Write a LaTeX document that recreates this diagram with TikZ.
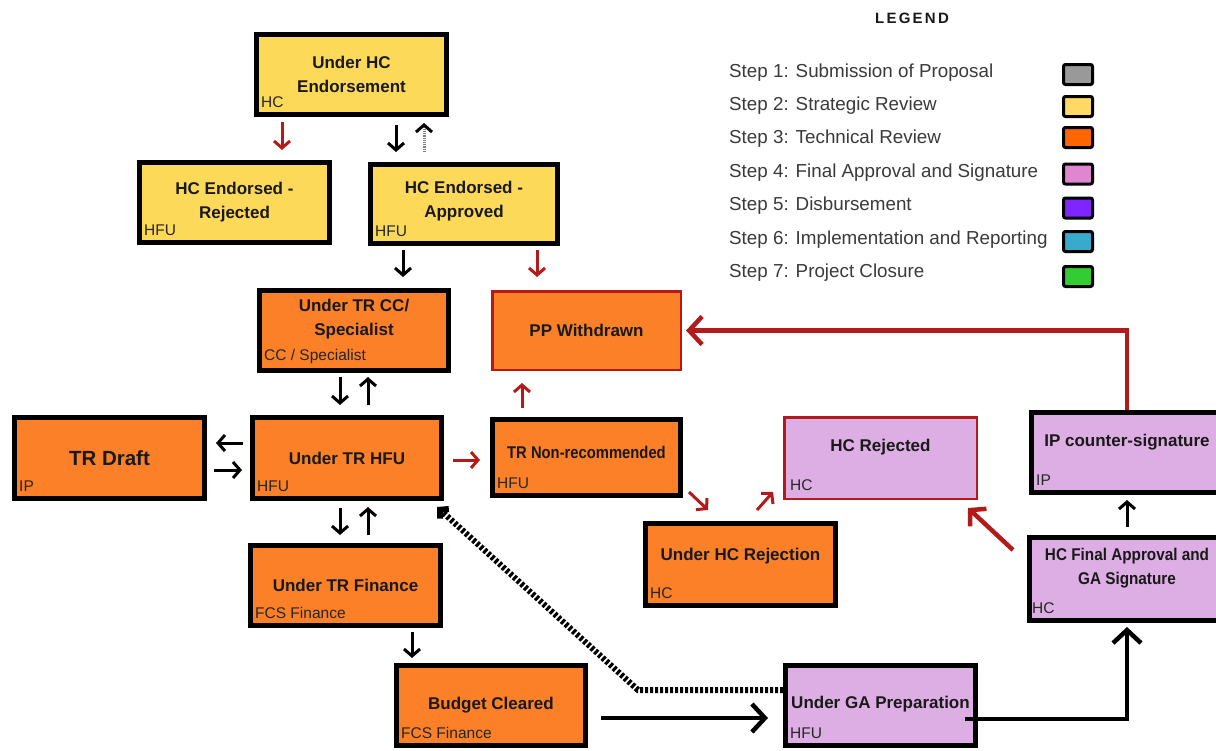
\documentclass[tikz,border=0pt]{standalone}
\usepackage{fontspec}
\usepackage{graphicx}
\setmainfont{Liberation Sans}
\usetikzlibrary{arrows.meta,calc}
\definecolor{yel}{HTML}{FDD95A}
\definecolor{org}{HTML}{FB8027}
\definecolor{pnk}{HTML}{DDAEE3}
\definecolor{rd}{HTML}{B41A1A}
\definecolor{lgtxt}{HTML}{3A3A3A}
\definecolor{cgrey}{HTML}{999999}
\definecolor{cyel}{HTML}{FFD966}
\definecolor{corg}{HTML}{FF6600}
\definecolor{cpnk}{HTML}{E086D0}
\definecolor{cpur}{HTML}{7F25FF}
\definecolor{cblu}{HTML}{38AACC}
\definecolor{cgrn}{HTML}{33CC33}
\begin{document}
\begin{tikzpicture}[x=1pt,y=-1pt,
  box/.style={draw=black,line width=5pt,inner sep=0pt,minimum width=190pt,minimum height=80pt},
  rbox/.style={draw=rd,line width=2.5pt,inner sep=0pt,minimum width=190pt,minimum height=80pt},
  title/.style={font=\bfseries\fontsize{17}{24}\selectfont,align=center,text=black!90,inner sep=0pt},
  sub/.style={font=\fontsize{15.5}{18}\selectfont,anchor=south west,inner sep=0pt,xshift=7pt,yshift=9pt,text=black!85},
  sa/.style={line width=3pt,-{Straight Barb[length=7pt,width=16pt]}},
  ba/.style={line width=4.5pt,-{Straight Barb[length=13pt,width=28pt]}},
  dt/.style={line width=6pt,dash pattern=on 3pt off 2pt,-{Straight Barb[length=6pt,width=13pt]}},
  lgtext/.style={font=\fontsize{18.8}{22}\selectfont,text=lgtxt,anchor=west,inner sep=0pt},
  sw/.style={draw=black,line width=3pt,rounded corners=2pt,minimum width=29pt,minimum height=20pt,inner sep=0pt}
]
\useasboundingbox (0,0) rectangle (1216,750);
\fill[white] (0,0) rectangle (1216,750);

% Legend
\node[font=\bfseries\fontsize{15}{18}\selectfont\addfontfeature{LetterSpace=15},text=black!90] (lg) at (912,18) {LEGEND};
\node[lgtext] (l1) at (729,73) {Step 1: Submission of Proposal};
\node[lgtext] (l2) at (729,106) {Step 2: Strategic Review};
\node[lgtext] (l3) at (729,139) {Step 3: Technical Review};
\node[lgtext] (l4) at (729,173) {Step 4: Final Approval and Signature};
\node[lgtext] (l5) at (729,206) {Step 5: Disbursement};
\node[lgtext] (l6) at (729,240) {Step 6: Implementation and Reporting};
\node[lgtext] (l7) at (729,273) {Step 7: Project Closure};
\node[sw,fill=cgrey] (s1) at (1078,74.5) {};
\node[sw,fill=cyel] (s2) at (1078,106.5) {};
\node[sw,fill=corg] (s3) at (1078,137.5) {};
\node[sw,fill=cpnk] (s4) at (1078,174) {};
\node[sw,fill=cpur] (s5) at (1078,208) {};
\node[sw,fill=cblu] (s6) at (1078,241.5) {};
\node[sw,fill=cgrn] (s7) at (1078,276.5) {};

% Boxes
\node[box,fill=yel,label={[title]center:Under HC\\Endorsement},label={[sub]south west:HC}] (uhce) at (351.5,74.5) {};
\node[box,fill=yel,label={[title]center:HC Endorsed -\\Rejected},label={[sub]south west:HFU}] (hcer) at (234.5,202.5) {};
\node[box,fill=yel,minimum width=187pt,minimum height=79pt,label={[title,yshift=3pt]center:HC Endorsed -\\Approved},label={[sub]south west:HFU}] (hcea) at (464,204) {};
\node[box,fill=org,minimum width=189pt,label={[title,yshift=11pt]center:Under TR CC/\\Specialist},label={[sub]south west:CC / Specialist}] (uccs) at (354,330.5) {};
\node[rbox,fill=org,minimum width=188.5pt,minimum height=78.5pt,label={[title]center:PP Withdrawn}] (ppw) at (586.5,330.5) {};
\node[box,fill=org,minimum height=81pt,label={[title,font=\bfseries\fontsize{20.5}{24}\selectfont]center:TR Draft},label={[sub]south west:IP}] (trd) at (109.5,458) {};
\node[box,fill=org,minimum width=189pt,minimum height=81pt,label={[title]center:Under TR HFU},label={[sub]south west:HFU}] (uhfu) at (347,458) {};
\node[box,fill=org,minimum width=188pt,minimum height=76pt,label={[title,yshift=5pt]center:\scalebox{0.87}[1]{TR Non-recommended}},label={[sub]south west:HFU}] (trnr) at (586.5,457.5) {};
\node[rbox,fill=pnk,minimum width=192.5pt,minimum height=81.5pt,label={[title,yshift=11pt]center:HC Rejected},label={[sub]south west:HC}] (hcrj) at (880.5,458) {};
\node[box,fill=pnk,minimum width=191pt,label={[title,yshift=10pt]center:IP counter-signature},label={[sub]south west:IP}] (ipcs) at (1127,452.5) {};
\node[box,fill=org,minimum height=82pt,label={[title,yshift=8pt]center:Under HC Rejection},label={[sub]south west:HC}] (uhcr) at (740.5,564.5) {};
\node[box,fill=pnk,minimum width=195pt,minimum height=83pt,label={[title,yshift=11pt]center:\scalebox{0.9}[1]{HC Final Approval and}\\\scalebox{0.9}[1]{GA Signature}},label={[sub,xshift=-2pt]south west:HC}] (hcfa) at (1127,579) {};
\node[box,fill=org,label={[title]center:Under TR Finance},label={[sub]south west:FCS Finance}] (utrf) at (345.5,585.5) {};
\node[box,fill=org,minimum width=189pt,label={[title]center:Budget Cleared},label={[sub]south west:FCS Finance}] (bc) at (491,705.5) {};
\node[box,fill=pnk,label={[title,yshift=1pt]center:Under GA Preparation},label={[sub]south west:HFU}] (ugap) at (880.5,705.5) {};

% Connectors
\draw[sa,rd] ($(uhce.south)+(-69.5,5)$) -- ($(hcer.north)+(47.5,-10)$);
\draw[sa] ($(uhce.south)+(44.5,8)$) -- ($(hcea.north)+(-68,-10)$);
\draw[line width=3pt,gray,dash pattern=on 1.2pt off 1pt,-{Straight Barb[length=7pt,width=16pt,color=black]}] ($(hcea.north)+(-40,-10)$) -- ($(uhce.south)+(72.5,6)$);
\draw[sa] ($(hcea.south)+(-61,4)$) -- ($(uccs.north)+(49,-11)$);
\draw[sa,rd] ($(hcea.south)+(73,4)$) -- ($(ppw.north)+(-49.5,-13)$);
\draw[sa] ($(uccs.south)+(-14,4)$) -- ($(uhfu.north)+(-7,-10)$);
\draw[sa] ($(uhfu.north)+(21,-10)$) -- ($(uccs.south)+(14,4)$);
\draw[sa] ($(uhfu.west)+(-7,-15)$) -- ($(trd.east)+(9,-15)$);
\draw[sa] ($(trd.east)+(7,12)$) -- ($(uhfu.west)+(-8,12)$);
\draw[sa,rd] ($(uhfu.east)+(9,2)$) -- ($(trnr.west)+(-10,2.5)$);
\draw[sa] ($(uhfu.south)+(-7,7)$) -- ($(utrf.north)+(-5.5,-8)$);
\draw[sa] ($(utrf.north)+(22.5,-8)$) -- ($(uhfu.south)+(21,6)$);
\draw[sa] ($(utrf.south)+(66.5,4)$) -- ($(bc.north)+(-79,-5)$);
\draw[ba] ($(bc.east)+(13,12.5)$) -- ($(ugap.west)+(-15,12.5)$);
\draw[ba] ($(ugap.east)+(-13,13.5)$) -| ($(hcfa.south)+(0,4)$);
\draw[dt] ($(ugap.west)+(0,-15.5)$) -- ++(-145,0) -- ($(uhfu.south east)+(-7,6)$);
\draw[ba,rd] (ipcs.north) |- ($(ppw.east)+(4,0)$);
\draw[sa,rd] ($(trnr.north)+(-64.5,-9)$) -- ($(ppw.south)+(-64.5,12)$);
\draw[sa,rd] ($(trnr.south east)+(6,-6)$) -- ($(uhcr.north west)+(65,-11)$);
\draw[sa,rd] ($(uhcr.north)+(16.5,-11)$) -- ($(hcrj.south west)+(-10,-8)$);
\draw[line width=4.5pt,rd,-{Straight Barb[length=11pt,width=24pt]}] ($(hcfa.north west)+(-14,15)$) -- ($(hcrj.south east)+(-10,8)$);
\draw[sa] ($(hcfa.north)+(0,-8)$) -- ($(ipcs.south)+(0,5)$);
\end{tikzpicture}
\end{document}
